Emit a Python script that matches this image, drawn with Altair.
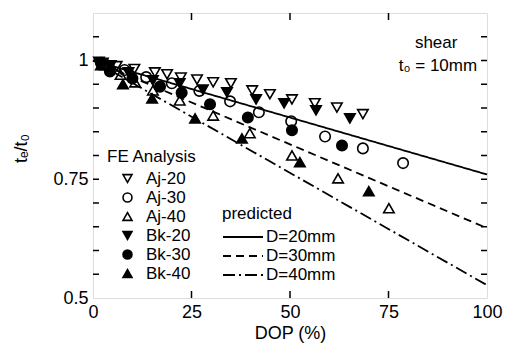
import altair as alt
import pandas as pd

FONT = "Liberation Sans"

# ---------------- data ----------------
series_names = ["Aj-20", "Aj-30", "Aj-40", "Bk-20", "Bk-30", "Bk-40"]
series_shapes = ["triangle-down", "circle", "triangle-up", "triangle-down", "circle", "triangle-up"]
series_fills = ["transparent", "transparent", "transparent", "black", "black", "black"]
series_strokes = ["black"] * 6

aj20_dop = [2.5, 6, 10.5, 15.7, 18.8, 22.3, 26.4, 30.5, 35, 40.4, 44.9, 50.5, 56.3, 61.9, 68.5]
aj20_te = [0.995, 0.988, 0.982, 0.975, 0.971, 0.964, 0.96, 0.954, 0.952, 0.937, 0.929, 0.918, 0.91, 0.901, 0.887]

aj30_dop = [3.5, 8, 13.5, 20, 27, 34.8, 42.1, 50.3, 58.9, 68.5, 78.7]
aj30_te = [0.99, 0.98, 0.965, 0.952, 0.936, 0.914, 0.891, 0.872, 0.84, 0.815, 0.784]

aj40_dop = [3, 7, 10.7, 15.2, 22, 30.5, 39.8, 50.5, 62.2, 75.1]
aj40_te = [0.99, 0.97, 0.954, 0.937, 0.916, 0.884, 0.847, 0.8, 0.752, 0.689]

bk20_dop = [1.5, 4.5, 9, 15.2, 22, 27.9, 34, 41.4, 48.5, 56.6, 65.2]
bk20_te = [0.997, 0.99, 0.975, 0.958, 0.952, 0.939, 0.933, 0.918, 0.91, 0.895, 0.878]

bk30_dop = [2, 4.3, 10, 17, 22.5, 29.7, 39.3, 50.5, 63.2]
bk30_te = [0.995, 0.977, 0.962, 0.945, 0.932, 0.908, 0.88, 0.853, 0.821]

bk40_dop = [2, 7.6, 15, 25.9, 37.8, 52.5, 70]
bk40_te = [0.99, 0.95, 0.92, 0.878, 0.836, 0.786, 0.725]

pred_names = ["D=20mm", "D=30mm", "D=40mm"]
pred_dop = [0, 100]
pred_d20 = [1.0, 0.76]
pred_d30 = [1.0, 0.647]
pred_d40 = [1.0, 0.527]
pred_dash = [[1, 0], [8, 5], [12, 4, 2, 4]]

x_labels = [0, 25, 50, 75, 100]
x_minor = [25, 50, 75]
y_labels = [0.5, 0.75, 1.0]
y_minor = [0.55, 0.6, 0.65, 0.7, 0.75, 0.8, 0.85, 0.9, 0.95, 1.0, 1.05]

annot_text = ["shear", "t\u2080 = 10mm"]
annot_x = [92.5, 97.5]
annot_y = [1.027, 0.977]

# ---------------- tables ----------------
rows = []
for name, xs, ys in [("Aj-20", aj20_dop, aj20_te), ("Aj-30", aj30_dop, aj30_te),
                     ("Aj-40", aj40_dop, aj40_te), ("Bk-20", bk20_dop, bk20_te),
                     ("Bk-30", bk30_dop, bk30_te), ("Bk-40", bk40_dop, bk40_te)]:
    for x, y in zip(xs, ys):
        rows.append({"series": name, "dop": x, "te": y})
pts = pd.DataFrame(rows)

lrows = []
for name, ys in zip(pred_names, [pred_d20, pred_d30, pred_d40]):
    for x, y in zip(pred_dop, ys):
        lrows.append({"pred": name, "dop": x, "te": y})
lines_df = pd.DataFrame(lrows)

xt = pd.DataFrame({"v": x_minor})
yt = pd.DataFrame({"v": y_minor})
ann = pd.DataFrame({"t": annot_text, "x": annot_x, "y": annot_y})

W, H = 394, 285

xscale = alt.Scale(domain=[0, 100], nice=False, zero=False)
yscale = alt.Scale(domain=[0.5, 1.1], nice=False, zero=False)

xaxis = alt.Axis(values=x_labels, title="DOP (%)", ticks=False, domain=False, grid=False,
                 labelFontSize=18, titleFontSize=18, labelPadding=5, titlePadding=3,
                 labelFont=FONT, titleFont=FONT, titleFontWeight="normal", labelColor="black",
                 titleColor="black", labelFlush=False)
yaxis = alt.Axis(values=y_labels, format="~g", title="t\u2091/t\u2080", ticks=False, domain=False,
                 grid=False, labelFontSize=18, titleFontSize=18, labelPadding=5, titlePadding=22,
                 titleY=135,
                 labelFont=FONT, titleFont=FONT, titleFontWeight="normal", labelColor="black",
                 titleColor="black", labelFlush=False)

lines = alt.Chart(lines_df).mark_line(strokeWidth=1.8, color="black").encode(
    x=alt.X("dop:Q", scale=xscale, axis=xaxis),
    y=alt.Y("te:Q", scale=yscale, axis=yaxis),
    strokeDash=alt.StrokeDash(
        "pred:N",
        scale=alt.Scale(domain=pred_names, range=pred_dash),
        legend=alt.Legend(title="predicted", orient="none", legendX=129, legendY=193,
                          symbolType="M-2,0H2", symbolSize=400, symbolStrokeWidth=1.8,
                          symbolStrokeColor="black", symbolOffset=10, labelFontSize=17,
                          titleFontSize=17, titleFontWeight="normal", labelFont=FONT,
                          titleFont=FONT, rowPadding=0, labelOffset=12, titlePadding=3,
                          padding=0, labelColor="black", titleColor="black"),
    ),
)

points = alt.Chart(pts).mark_point(size=110, strokeWidth=1.6, opacity=1, fillOpacity=1).encode(
    x=alt.X("dop:Q", scale=xscale),
    y=alt.Y("te:Q", scale=yscale),
    shape=alt.Shape("series:N", scale=alt.Scale(domain=series_names, range=series_shapes),
                    legend=alt.Legend(title="FE Analysis", orient="none", legendX=14, legendY=136,
                                      symbolSize=80, symbolStrokeWidth=1.6,
                                      symbolOffset=12,
                                      labelFontSize=17, titleFontSize=17,
                                      titleFontWeight="normal", labelFont=FONT, titleFont=FONT,
                                      rowPadding=1, labelOffset=10, titlePadding=4, padding=0,
                                      labelColor="black", titleColor="black")),
    fill=alt.Fill("series:N", scale=alt.Scale(domain=series_names, range=series_fills)),
    stroke=alt.Stroke("series:N", scale=alt.Scale(domain=series_names, range=series_strokes)),
)

ticks_bottom = alt.Chart(xt).mark_rule(color="black", strokeWidth=1.5).encode(
    x=alt.X("v:Q", scale=xscale), y=alt.value(H), y2=alt.value(H - 7))
ticks_top = alt.Chart(xt).mark_rule(color="black", strokeWidth=1.5).encode(
    x=alt.X("v:Q", scale=xscale), y=alt.value(0), y2=alt.value(7))
ticks_left = alt.Chart(yt).mark_rule(color="black", strokeWidth=1.5).encode(
    y=alt.Y("v:Q", scale=yscale), x=alt.value(0), x2=alt.value(6))
ticks_right = alt.Chart(yt).mark_rule(color="black", strokeWidth=1.5).encode(
    y=alt.Y("v:Q", scale=yscale), x=alt.value(W - 6), x2=alt.value(W))

text = alt.Chart(ann).mark_text(align="right", baseline="alphabetic", fontSize=17,
                                font=FONT, color="black").encode(
    x=alt.X("x:Q", scale=xscale), y=alt.Y("y:Q", scale=yscale), text="t:N")

chart = alt.layer(ticks_bottom, ticks_top, ticks_left, ticks_right, lines, points, text).properties(
    width=W, height=H,
    autosize=alt.AutoSizeParams(type="none"),
    padding={"left": 85, "top": 5, "right": 20, "bottom": 48},
).configure_view(stroke="black", strokeWidth=1.8).configure(background="white")

chart.save("out.html", embed_options={"renderer": "svg", "actions": False})
